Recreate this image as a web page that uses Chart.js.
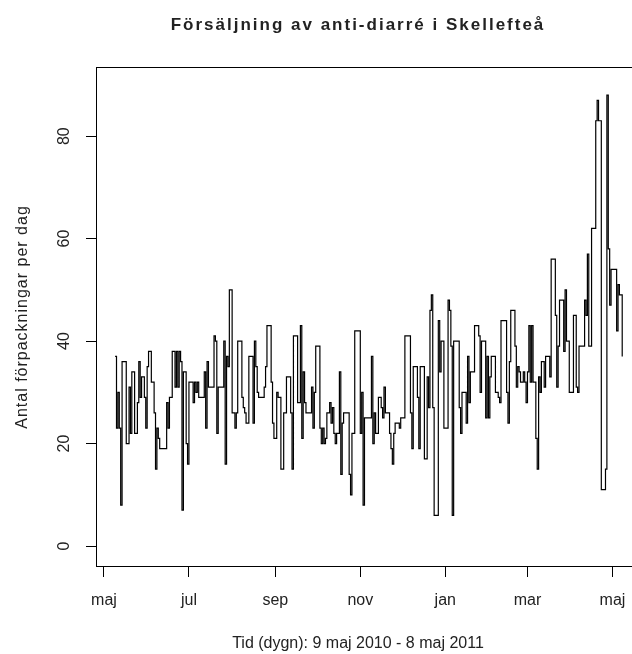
<!DOCTYPE html>
<html>
<head>
<meta charset="utf-8">
<title>Försäljning av anti-diarré i Skellefteå</title>
<script src="https://cdn.jsdelivr.net/npm/chart.js@4/dist/chart.umd.min.js"></script>
<style>
  html, body { margin: 0; padding: 0; background: #fff; overflow: hidden; }
  canvas { display: block; }
</style>
</head>
<body>
<canvas id="chart" width="660" height="654"></canvas>
<script>
// Daily sales of anti-diarrhoea packs, 9 May 2010 - 8 May 2011.
// The x axis counts days from 1 May 2010; the first sale day is day 8.
const firstDay = 8;

const sales = [
  37, 23, 30, 23, 8, 36, 36, 36, 20, 20,
  31, 22, 34, 34, 22, 22, 28, 36, 29, 33,
  33, 29, 23, 35, 38, 38, 32, 32, 26, 15,
  23, 21, 19, 19, 19, 19, 19, 28, 23, 29,
  29, 38, 38, 31, 38, 31, 38, 36, 7, 34,
  34, 20, 16, 32, 32, 32, 28, 32, 30, 32,
  29, 29, 29, 29, 34, 23, 36, 31, 31, 31,
  31, 41, 40, 22, 31, 31, 31, 31, 40, 16,
  37, 35, 50, 50, 26, 26, 23, 26, 40, 40,
  40, 29, 27, 26, 24, 24, 37, 37, 37, 24,
  40, 35, 30, 29, 29, 29, 29, 31, 35, 43,
  43, 43, 32, 24, 21, 21, 30, 29, 29, 15,
  15, 26, 26, 33, 33, 33, 26, 15, 41, 41,
  41, 28, 28, 43, 21, 34, 28, 26, 26, 26,
  26, 31, 23, 30, 39, 39, 39, 23, 20, 23,
  20, 21, 26, 26, 28, 24, 27, 22, 20, 22,
  22, 34, 14, 24, 26, 26, 26, 26, 14, 10,
  22, 22, 42, 42, 42, 42, 22, 30, 8, 25,
  25, 25, 25, 25, 37, 20, 26, 22, 22, 29,
  29, 27, 25, 31, 26, 26, 26, 22, 19, 16,
  22, 24, 24, 24, 23, 25, 25, 25, 41, 41,
  41, 41, 26, 19, 35, 35, 35, 29, 19, 35,
  35, 35, 17, 17, 33, 27, 46, 49, 27, 6,
  6, 6, 44, 34, 40, 40, 23, 23, 23, 48,
  46, 39, 6, 40, 40, 40, 40, 27, 22, 30,
  30, 30, 24, 37, 28, 34, 34, 34, 43, 43,
  43, 41, 30, 40, 40, 40, 25, 37, 25, 33,
  37, 37, 37, 30, 30, 29, 28, 44, 44, 44,
  44, 30, 24, 36, 46, 46, 46, 39, 31, 35,
  34, 32, 32, 34, 32, 28, 34, 43, 32, 43,
  32, 32, 21, 15, 33, 30, 36, 36, 31, 37,
  37, 37, 33, 56, 56, 56, 45, 31, 39, 48,
  48, 48, 38, 50, 40, 40, 30, 30, 30, 45,
  45, 31, 30, 39, 39, 39, 39, 48, 45, 57,
  39, 39, 62, 62, 62, 83, 87, 83, 83, 11,
  11, 11, 15, 88, 58, 47, 54, 54, 54, 54,
  42, 51, 49, 49, 37
];

// Month ticks (days after 1 May 2010) and their labels
const monthTicks = [0, 61, 123, 184, 245, 304, 365];
const monthLabels = ['maj', 'jul', 'sep', 'nov', 'jan', 'mar', 'maj'];
const yTicks = [0, 20, 40, 60, 80];

const titleText = 'Försäljning av anti-diarré i Skellefteå';
const xTitle = 'Tid (dygn): 9 maj 2010 - 8 maj 2011';
const yTitle = 'Antal förpackningar per dag';

const points = sales.map((v, i) => ({ x: firstDay + i, y: v }));

const FONT = '"Liberation Sans", Arial, Helvetica, sans-serif';
const INK = '#222';

// Frame around the plot region plus the title and axis titles
const framePlugin = {
  id: 'frameAndTitles',
  afterDraw(chart) {
    const { ctx, chartArea: a } = chart;
    ctx.save();
    ctx.strokeStyle = '#000';
    ctx.lineWidth = 1;
    ctx.strokeRect(a.left - 0.5, a.top - 0.5, a.right - a.left + 1, a.bottom - a.top + 1);

    ctx.fillStyle = INK;
    ctx.textAlign = 'center';
    ctx.textBaseline = 'alphabetic';
    ctx.font = 'bold 17px ' + FONT;
    ctx.letterSpacing = '2px';
    ctx.fillText(titleText, 358, 30);

    ctx.font = '16px ' + FONT;
    ctx.letterSpacing = '0px';
    ctx.fillText(xTitle, 358, 648);

    ctx.translate(27, 317);
    ctx.rotate(-Math.PI / 2);
    ctx.letterSpacing = '1px';
    ctx.fillText(yTitle, 0, 0);
    ctx.restore();
  }
};

new Chart(document.getElementById('chart'), {
  type: 'line',
  data: {
    datasets: [{
      data: points,
      stepped: true,
      borderColor: '#000',
      borderWidth: 1.2,
      pointRadius: 0,
      fill: false,
      tension: 0
    }]
  },
  options: {
    responsive: false,
    animation: false,
    devicePixelRatio: 1,
    layout: { padding: { left: 0, top: 68, right: 15.5, bottom: 0 } },
    plugins: {
      legend: { display: false },
      tooltip: { enabled: false },
      title: { display: false }
    },
    scales: {
      x: {
        type: 'linear',
        min: -5,
        max: 388,
        afterFit(scale) { scale.height = 88; },
        afterBuildTicks(scale) { scale.ticks = monthTicks.map(v => ({ value: v })); },
        border: { display: false },
        grid: {
          drawOnChartArea: false,
          drawTicks: true,
          tickLength: 11,
          color: '#000',
          lineWidth: 1
        },
        ticks: {
          autoSkip: false,
          maxRotation: 0,
          minRotation: 0,
          padding: 14,
          color: INK,
          font: { family: FONT, size: 16 },
          callback(value) {
            const k = monthTicks.indexOf(value);
            return k >= 0 ? monthLabels[k] : '';
          }
        }
      },
      y: {
        type: 'linear',
        min: -3.9,
        max: 93.3,
        afterFit(scale) { scale.width = 97; },
        afterBuildTicks(scale) { scale.ticks = yTicks.map(v => ({ value: v })); },
        border: { display: false },
        grid: {
          drawOnChartArea: false,
          drawTicks: true,
          tickLength: 11,
          color: '#000',
          lineWidth: 1
        },
        ticks: {
          minRotation: 90,
          maxRotation: 90,
          crossAlign: 'center',
          padding: 13,
          color: INK,
          font: { family: FONT, size: 16 }
        }
      }
    }
  },
  plugins: [framePlugin]
});
</script>
</body>
</html>
